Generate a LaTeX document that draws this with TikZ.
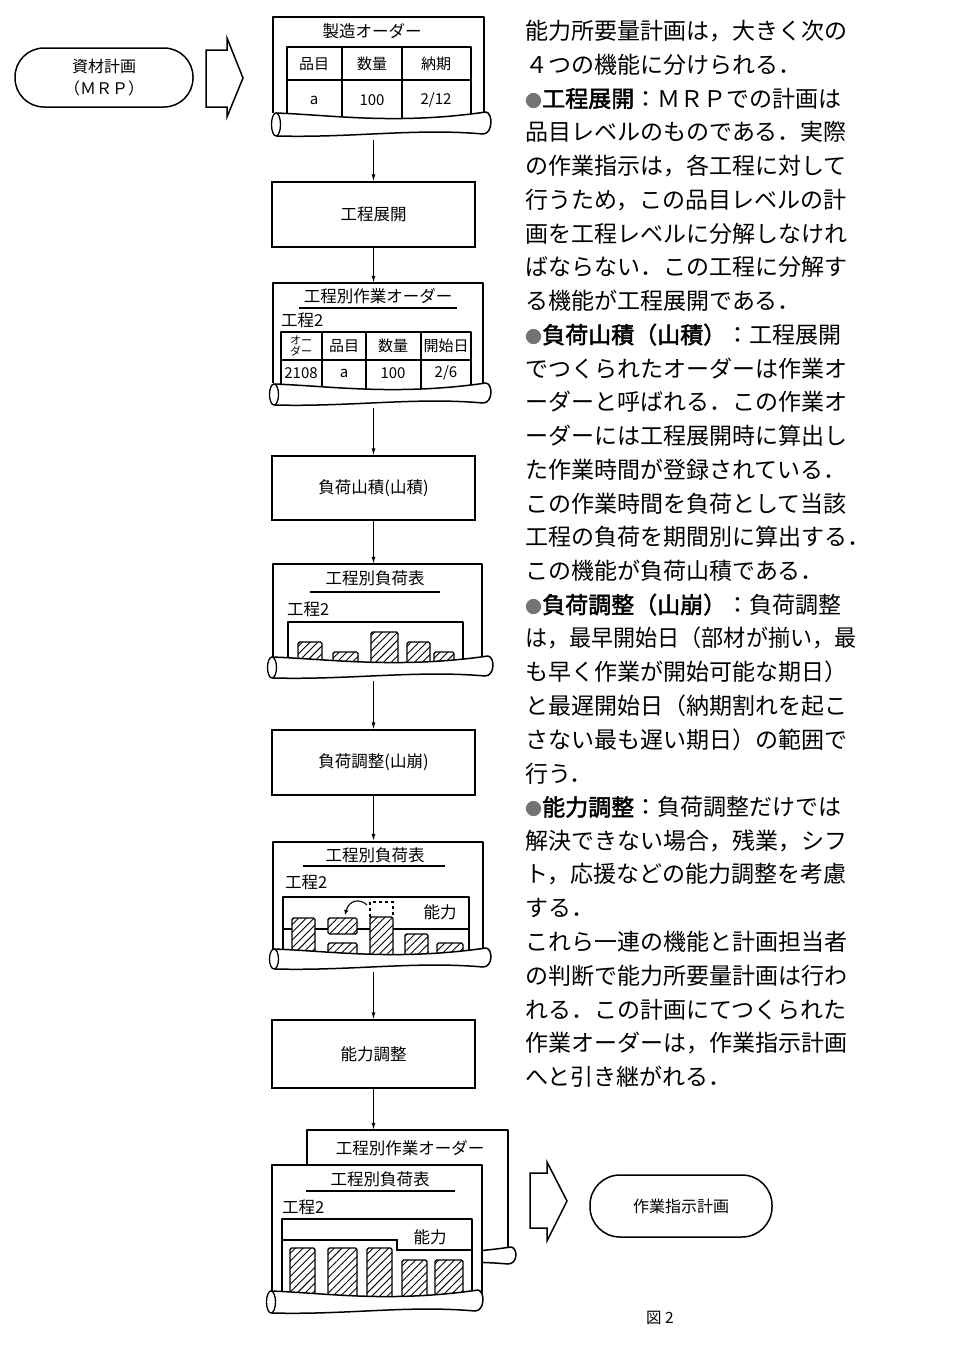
\documentclass[tikz,border=0pt]{standalone}
\usepackage{fontspec}
\setmainfont{Noto Sans CJK JP}
\newfontfamily\jpbold{Noto Sans CJK JP}[FakeBold=2]
\usetikzlibrary{patterns.meta,arrows.meta}
\newcommand{\myscroll}[4]{%
  \filldraw[fill=white, line width=1.5pt, line join=round]
    ({#1+4},#3) .. controls ({#1+60},{#3+2}) and ({#2-90},{#3+12}) .. ({#2},{#3-1})
    .. controls ({#2+7},{#3}) and ({#2+7},{#4-2}) .. ({#2-3},{#4-2})
    .. controls ({#2-70},{#4-8}) and ({#1+80},{#4+2}) .. ({#1+5},#4) -- cycle;
  \filldraw[fill=white, line width=1.3pt] ({#1+4},{(#3+#4)/2}) ellipse [x radius=4.5, y radius={(#4-#3)/2}];
}
\newcommand{\bul}{{\fontsize{17}{17}\selectfont\color{black!55}●}}
\begin{document}
\begin{tikzpicture}[x=1pt,y=-1pt,
  ln/.style={line width=1.5pt, line join=round},
  procbox/.style={draw, line width=1.5pt, minimum width=203pt, inner sep=0pt, font=\fontsize{16.5}{18}\selectfont},
  stadium/.style={draw, line width=1.5pt, align=center, inner sep=0pt, font=\fontsize{16}{22}\selectfont},
  conn/.style={line width=1pt, -{Latex[length=7pt,width=4pt]}},
  lbl/.style={inner sep=0pt, font=\fontsize{16.5}{18}\selectfont},
  cell/.style={inner sep=0pt, font=\fontsize{15}{17}\selectfont},
  docnode/.style={inner sep=0pt, minimum width=212pt},
  bar/.style={draw, line width=1.4pt, rounded corners=1.5pt, preaction={fill=white}, pattern={Lines[angle=45,distance=5.5pt,line width=0.9pt]}},
  txtline/.style={anchor=west, inner sep=0pt, font=\fontsize{23}{26}\selectfont},
  blockarrow/.style={line width=1.5pt, line join=miter, fill=white}
]
\useasboundingbox (0,0) rectangle (961,1349);

% ---------- MRP ----------
\node[stadium, minimum width=178pt, minimum height=59pt, rounded corners=29pt] (mrp) at (104,77.5) {資材計画\\（ＭＲＰ）};
\draw[blockarrow] (206,50) -- (227,50) -- (227,38) -- (243,78) -- (227,117) -- (227,107) -- (206,107) -- cycle;

% ---------- Doc 1 ----------
\node[docnode, minimum height=121pt] (d1) at (378,76.5) {};
\draw[ln] (273,113) -- (273,17) -- (484,17) -- (484,112);
\node[lbl] (d1t) at (372,31) {製造オーダー};
\draw[ln] (287,125) -- (287,47) -- (471,47) -- (471,125);
\draw[ln] (287,80) -- (471,80);
\draw[ln] (342,47) -- (342,125);
\draw[ln] (402,47) -- (402,125);
\node[cell] (c11) at (314,64) {品目};
\node[cell] (c12) at (372,64) {数量};
\node[cell] (c13) at (436,64) {納期};
\node[cell] (c21) at (314,100) {a};
\node[cell] (c22) at (372,100) {100};
\node[cell] (c23) at (436,100) {2/12};
\myscroll{272}{486}{113}{136}

% ---------- Box 1 ----------
\node[procbox, minimum height=65pt] (b1) at (373.5,214.5) {工程展開};

% ---------- Doc 2 ----------
\node[docnode, minimum height=122pt] (d2) at (378,344) {};
\draw[ln] (273,383) -- (273,283) -- (483,283) -- (483,383);
\node[lbl] (d2t) at (378,296) {工程別作業オーダー};
\draw[ln] (299,308) -- (457,308);
\node[lbl, anchor=west] (d2p) at (281,320) {工程2};
\draw[ln] (281,392) -- (281,332) -- (471,332) -- (471,392);
\draw[ln] (281,360) -- (471,360);
\draw[ln] (322,332) -- (322,392);
\draw[ln] (366,332) -- (366,392);
\draw[ln] (421,332) -- (421,392);
\node[cell, align=center, font=\fontsize{11}{11}\selectfont] (e11) at (301,346) {オー\\ダー};
\node[cell] (e12) at (344,346) {品目};
\node[cell] (e13) at (393,346) {数量};
\node[cell] (e14) at (446,346) {開始日};
\node[cell] (e21) at (301,373) {2108};
\node[cell] (e22) at (344,373) {a};
\node[cell] (e23) at (393,373) {100};
\node[cell] (e24) at (446,373) {2/6};
\myscroll{270}{486}{384}{405}

% ---------- Box 2 ----------
\node[procbox, minimum height=64pt] (b2) at (373.5,488) {負荷山積(山積)};

% ---------- Doc 3 ----------
\node[docnode, minimum height=114pt] (d3) at (378,621) {};
\draw[ln] (273,658) -- (273,564) -- (482,564) -- (482,658);
\node[lbl] (d3t) at (375,578) {工程別負荷表};
\draw[ln] (310,592) -- (440,592);
\node[lbl, anchor=west] (d3p) at (287,609) {工程2};
\draw[ln] (288,666) -- (288,622) -- (463,622) -- (463,666);
\draw[bar] (298,642) rectangle (322,668);
\draw[bar] (333,652) rectangle (358,668);
\draw[bar] (371,632) rectangle (398,668);
\draw[bar] (407,642) rectangle (430,668);
\draw[bar] (434,652) rectangle (454,668);
\myscroll{268}{488}{657}{678}

% ---------- Box 3 ----------
\node[procbox, minimum height=65pt] (b3) at (373.5,762.5) {負荷調整(山崩)};

% ---------- Doc 4 ----------
\node[docnode, minimum height=128pt] (d4) at (378,905) {};
\draw[ln] (273,950) -- (273,842) -- (483,842) -- (483,950);
\node[lbl] (d4t) at (375,855) {工程別負荷表};
\draw[ln] (303,866) -- (445,866);
\node[lbl, anchor=west] (d4p) at (285,882) {工程2};
\draw[ln] (283,958) -- (283,897) -- (469,897) -- (469,958);
\draw[line width=1.3pt] (283,929) -- (469,929);
\node[lbl] (d4c) at (440,912) {能力};
\draw[bar] (292,918) rectangle (315,960);
\draw[bar] (328,918) rectangle (357,934);
\draw[bar] (328,943) rectangle (357,960);
\draw[bar] (370,917) rectangle (393,960);
\draw[line width=1.3pt, dashed] (370,917) -- (370,902) -- (393,902) -- (393,917);
\draw[bar] (405,934) rectangle (428,960);
\draw[bar] (437,943) rectangle (463,960);
\draw[line width=1.1pt, -{Latex[length=5pt,width=4.5pt]}] (367,905) .. controls (360,898) and (349,900) .. (345,915);
\myscroll{270}{486}{949}{969}

% ---------- Box 4 ----------
\node[procbox, minimum height=68pt] (b4) at (373.5,1054) {能力調整};

% ---------- Final docs ----------
\node[docnode, minimum width=201pt, minimum height=136pt] (df2) at (407.5,1198) {};
\draw[ln] (307,1250) -- (307,1130) -- (508,1130) -- (508,1250);
\node[lbl] (df2t) at (410,1148) {工程別作業オーダー};
\myscroll{300}{511}{1248}{1266}
\node[docnode, minimum width=210pt, minimum height=148pt] (df1) at (377,1239) {};
\filldraw[ln, fill=white] (272,1298) -- (272,1165) -- (482,1165) -- (482,1298);
\node[lbl] (df1t) at (380,1179) {工程別負荷表};
\draw[ln] (306,1191) -- (455,1191);
\node[lbl, anchor=west] (df1p) at (282,1207) {工程2};
\draw[ln] (282,1298) -- (282,1219) -- (472,1219) -- (472,1298);
\draw[line width=1.3pt] (282,1240) -- (397,1240) -- (397,1250) -- (472,1250);
\node[lbl] (df1c) at (430,1237) {能力};
\draw[bar] (290,1248) rectangle (315,1301);
\draw[bar] (328,1248) rectangle (357,1301);
\draw[bar] (367,1248) rectangle (392,1301);
\draw[bar] (402,1260) rectangle (427,1301);
\draw[bar] (435,1260) rectangle (463,1301);
\myscroll{267}{478}{1291}{1313}

\draw[blockarrow] (530,1173) -- (547,1173) -- (547,1162) -- (567,1201) -- (547,1241) -- (547,1228) -- (530,1228) -- cycle;
\node[stadium, minimum width=182pt, minimum height=62pt, rounded corners=30pt] (plan) at (681,1206) {作業指示計画};
\node[lbl, font=\fontsize{15.5}{18}\selectfont] (fig) at (660,1318) {図 2};

% ---------- Connectors ----------
\draw[conn] (b1.north |- d1.south) ++(0,3) -- (b1.north);
\draw[conn] (b1.south) -- (b1.south |- d2.north);
\draw[conn] (b2.north |- d2.south) ++(0,3) -- (b2.north);
\draw[conn] (b2.south) -- (b2.south |- d3.north);
\draw[conn] (b3.north |- d3.south) ++(0,3) -- (b3.north);
\draw[conn] (b3.south) -- (b3.south |- d4.north);
\draw[conn] (b4.north |- d4.south) ++(0,3) -- (b4.north);
\draw[conn] (b4.south) -- (b4.south |- df2.north);

% ---------- Right text ----------
\foreach \txt [count=\i] in {
 能力所要量計画は，大きく次の,
 ４つの機能に分けられる．,
 {\bul{\jpbold 工程展開}：ＭＲＰでの計画は},
 品目レベルのものである．実際,
 の作業指示は，各工程に対して,
 行うため，この品目レベルの計,
 画を工程レベルに分解しなけれ,
 ばならない．この工程に分解す,
 る機能が工程展開である．,
 {\bul{\jpbold 負荷山積（山積）}：工程展開},
 でつくられたオーダーは作業オ,
 ーダーと呼ばれる．この作業オ,
 ーダーには工程展開時に算出し,
 た作業時間が登録されている．,
 この作業時間を負荷として当該,
 工程の負荷を期間別に算出する．,
 この機能が負荷山積である．,
 {\bul{\jpbold 負荷調整（山崩）}：負荷調整},
 {\scalebox{0.96}[1]{は，最早開始日（部材が揃い，最}},
 も早く作業が開始可能な期日）,
 と最遅開始日（納期割れを起こ,
 さない最も遅い期日）の範囲で,
 行う．,
 {\bul{\jpbold 能力調整}：負荷調整だけでは},
 解決できない場合，残業，シフ,
 ト，応援などの能力調整を考慮,
 する．,
 これら一連の機能と計画担当者,
 の判断で能力所要量計画は行わ,
 れる．この計画にてつくられた,
 作業オーダーは，作業指示計画,
 へと引き継がれる．}
 { \node[txtline] (t\i) at (525,{31+(\i-1)*33.74}) {\txt}; }
\end{tikzpicture}
\end{document}
